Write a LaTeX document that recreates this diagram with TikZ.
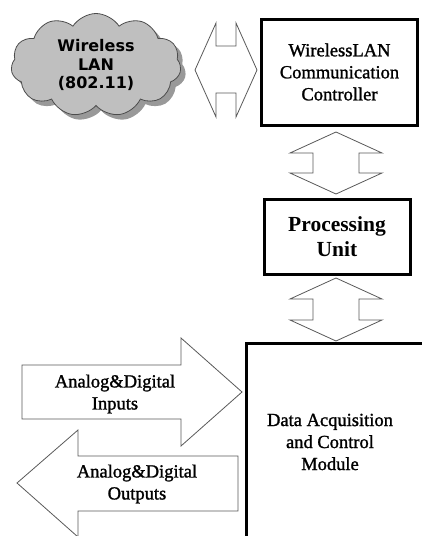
\documentclass[tikz,border=0pt]{standalone}
\usepackage{fontspec}
\setmainfont{Liberation Serif}
\newfontfamily\semiserif{Liberation Serif}[FakeBold=1.3]
\newfontfamily\cloudfont{DejaVu Sans}
\usetikzlibrary{shapes.symbols,shadows}
\begin{document}
\begin{tikzpicture}[x=1pt,y=-1pt,
  box/.style={draw=black,line width=3pt,align=center,inner sep=0pt},
  blockarrow/.style={draw=black!65,line width=0.8pt,fill=white,line join=miter},
  boxtext/.style={font=\semiserif\fontsize{18.5}{22}\selectfont,align=center},
  lbltext/.style={font=\semiserif\fontsize{18.5}{22}\selectfont,align=center}]
\useasboundingbox (0,0) rectangle (422,536);
\clip (0,0) rectangle (422,536);
% cloud
\node[cloud, cloud puffs=11, cloud puff arc=115, aspect=1.6,
      minimum width=170, minimum height=103, inner sep=0pt,
      draw=black!70, line width=0.8pt, fill=black!25,
      drop shadow={shadow xshift=5pt,shadow yshift=-5pt,fill=black!50,opacity=0.8},
      font=\cloudfont\bfseries\fontsize{16}{18.5}\selectfont, align=center]
      (wlan) at (96,65) {Wireless\\LAN\\(802.11)};
% box 1
\node[box, minimum width=156, minimum height=106, boxtext] (wlc) at (339.5,72) {WirelessLAN\\Communication\\Controller};
% box 2
\node[box, minimum width=146, minimum height=75, font=\bfseries\fontsize{21.5}{25}\selectfont] (pu) at (337,236.5) {Processing\\Unit};
% box 3 (cut off by the picture's edge)
\draw[line width=3pt] (246.5,560) coordinate (daqbl) -- (246.5,343.5) coordinate (daqtl) -- (440,343.5);
\node[boxtext] (daq) at (330,442) {Data Acquisition\\and Control\\Module};
% horizontal double arrow cloud <-> box 1
\draw[blockarrow] (195,70) -- (216,23) -- (216,46) -- (236,46) -- (236,23) -- (257,70)
   -- (236,117) -- (236,93) -- (216,93) -- (216,117) -- cycle;
% vertical double arrow box 1 <-> box 2
\draw[blockarrow] (336,132) -- (382,153) -- (359,153) -- (359,173) -- (382,173) -- (336,194)
   -- (290,173) -- (313,173) -- (313,153) -- (290,153) -- cycle;
% vertical double arrow box 2 <-> box 3
\draw[blockarrow] (336,278) -- (382,299) -- (359,299) -- (359,320) -- (382,320) -- (336,341)
   -- (290,320) -- (313,320) -- (313,299) -- (290,299) -- cycle;
% inputs arrow
\draw[blockarrow] (22,365) -- (181,365) -- (181,338) -- (242,392) -- (181,446) -- (181,419) -- (22,419) -- cycle;
\node[lbltext] (inp) at (115,394) {Analog\&Digital\\Inputs};
% outputs arrow
\draw[blockarrow] (238,456) -- (78,456) -- (78,430) -- (17,483) -- (78,537) -- (78,511) -- (238,511) -- cycle;
\node[lbltext] (outp) at (137,484) {Analog\&Digital\\Outputs};
\end{tikzpicture}
\end{document}
